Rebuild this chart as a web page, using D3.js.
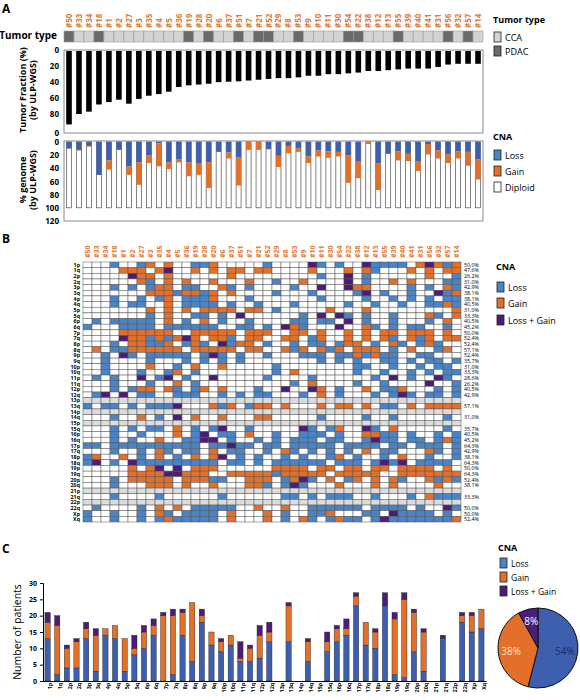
<!DOCTYPE html>
<html><head><meta charset="utf-8">
<script src="https://cdn.jsdelivr.net/npm/d3@7"></script>
<style>
body{margin:0;background:#fff}
text{font-family:"Open Sans",Arial,sans-serif}
</style></head>
<body>
<script>
const width = 580, height = 700;

const samples = ["#50","#33","#34","#18","#1","#2","#27","#3","#35","#4","#5","#36","#19","#28","#20","#6","#37","#51","#7","#21","#52","#29","#8","#53","#9","#10","#11","#30","#54","#22","#38","#12","#13","#55","#39","#40","#41","#31","#56","#32","#57","#14"];
const tumorType = ["P","C","C","P","C","C","C","C","C","C","C","C","P","C","P","C","C","P","C","P","P","C","C","P","C","C","C","C","P","P","C","C","C","P","C","C","C","C","P","C","P","C"];
const tumorFraction = [92,79,76,67,64,61,66,60,56,54,51,45,43,42,41,39,38.5,38,37,36,35,34,34,33,31,31,29,29,28,27,25,25,24,23,22,22,22,20,17,16,16,16];
const genomeLoss = [10,12,6,50,28,12,37,31,20,2,31,26,31,32,31,15,16,23,0,0,11,21,6,10,22,13,14,15,20,30,0,32,18,14,18,30,3,13,19,14,15,26];
const genomeGain = [0,1,1,0,14,0,13,34,12,35,10,5,21,18,39,0,9,43,12,12,0,17,11,5,10,9,10,7,42,25,3,41,0,14,11,14,16,12,13,11,21,31];

const arms = ["1p","1q","2p","2q","3p","3q","4p","4q","5p","5q","6p","6q","7p","7q","8p","8q","9p","9q","10p","10q","11p","11q","12p","12q","13p","13q","14p","14q","15p","15q","16p","16q","17p","17q","18p","18q","19p","19q","20p","20q","21p","21q","22p","22q","Xp","Xq"];
// heatmap rows: . none, L loss, G gain, B loss+gain, - not assessed
const heatRows = [
"...L..|LG.G..|LLG...|..L...|.BL.L.|.BLLLL|.GBGLG",
"....GG|G.GB..|G.G.GG|.GG...|.G...G|.GL...|G.G.GG",
".....B|GG.G..|....G.|......|..L..B|.L....|..G..L",
"......|GL.G.G|..G...|G..L..|G....B|.L..G.|G...LL",
"...L.L|.LGG.L|L..GL.|L....L|..B..B|GG....|L.L.GL",
"......|.GGGLG|GLG.G.|...L..|.L....|LB.L..|L..BLG",
"...L..|L.LG.L|LLG...|L.....|..L...|.L..L.|L.L.LL",
"...L.L|L..G.L|LLL.L.|.L...L|.....L|..L..L|..LLGL",
"......|.G.G.G|.GGGG.|GG.L..|...G..|.G....|.....G",
"......|.L.G..|LL.L.B|......|L.B.BL|.L..L.|..GL.G",
".L.LLL|LL.G.L|.G.L..|L....L|L.LL.B|.L..L.|..L.G.",
"L...LL|LL.LLL|LLL..L|L.L.BG|L...B.|.GL.L.|LL..L.",
"....GG|GGGG..|GGGGG.|GGG..G|G.G..G|.G.GG.|GGG.G.",
"....BG|GLGLGB|G.GGL.|GG..GG|.LG..G|.G.GL.|GLG.GG",
"...L.G|GLLG.L|GL.BLG|G.L..L|.LL.LG|G.L.GL|.LGL..",
".G.LLG|GGGGG.|GGGGG.|GG..GL|G.GLG.|GGG.L.|G..LG.",
"..L.BL|.LLLLL|.LBL.L|..L...|LLL.LL|GLGLL.|.LL...",
"..L...|.L...L|.L.L.L|......|..L.L.|L..LL.|L.LL.L",
"..L...|.G..L.|G..G..|...L..|......|LL..L.|.L.LL.",
"..L...|L..LG.|L.....|...L.G|......|L..L..|L.L.LL",
".L.L..|B.LB.L|..B...|..L...|.L....|..L.B.|L..BL.",
"...L..|.L..G.|L.....|.....L|.G....|L..L..|..B..L",
"...L.L|GG.GL.|LG.G..|.L..B.|.BG.L.|.G.LLG|...L.L",
".LB.B.|LL..LL|L..L.L|.LL...|L.G.L.|..L.LB|L.LL.L",
"------|------|------|------|------|------|------",
"L.LL.L|.LLLB.|..GLG.|LGG.G.|..G.GG|.G.LL.|G.GGGG",
"------|------|------|------|------|------|------",
"...L..|G.L.B.|G..G..|.GG...|..L...|.L..L.|....L.",
"------|------|------|------|------|------|------",
"...L.L|.LL.G.|L.LB..|L.....|BL.LG.|.BL.G.|....L.",
"...L..|L...G.|LB.LL.|G..L..|LLL.L.|.GGLL.|L..L.L",
"...L.L|..G..L|LBB.L.|.L.L.L|LL.LL.|.LBLL.|LL.LGL",
"LL.LLL|LLLLLL|L.LLBL|L.LL.L|LLLL.L|LLL.LL|.LLL.L",
"...L..|L.GL.L|L.G.LL|..L.GL|.L.L.L|.G.LL.|..GL.L",
"LG..G.|L.G.L.|G.GB.L|.L..L.|L..LG.|L..L.G|..L..L",
"LB.L.B|LLLLLL|LLL.LL|.L.LLL|LLL.LL|L.LBLB|.LLLL.",
".....G|.GB.B.|GGG...|...GGG|G.GG.G|G.GG.G|GGG.G.",
".....G|GGGBBG|GG..GG|GGGLGG|GGG.GG|GGG..G|GGGGGG",
"...L.G|GGGG.G|GGLL..|GGG.LG|BL.G.L|G.G.GL|..GLGL",
"...L..|.GGG.G|..G...|GGL.LB|L...G.|..G.G.|...G..",
"------|------|------|------|------|------|------",
"...L..|..L...|...L..|....LL|.L.LLL|..L...|L.GLLL",
"------|------|------|------|------|------|------",
".L....|L.G.G.|LLLLL.|.G..G.|.LLLLL|L.LLLL|.L..BL",
"L..L..|L.GL.L|LLL.G.|..G.L.|.LLG..|.LL.BL|LLL.L.",
"L..L..|L.LGLL|LLL.G.|..G.L.|GL.LGL|L.LBLL|LLLLLG"
];
const armPercent = ["50,0%","47,6%","26,2%","31,0%","42,9%","38,1%","38,1%","40,5%","31,0%","33,3%","40,5%","45,2%","50,0%","52,4%","52,4%","57,1%","52,4%","35,7%","31,0%","33,3%","28,6%","26,2%","40,5%","42,9%","","57,1%","","31,0%","","35,7%","40,5%","45,2%","64,3%","42,9%","38,1%","64,3%","50,0%","64,3%","52,4%","38,1%","","33,3%","","50,0%","50,0%","52,4%"];

const patLoss = [13,2,4,4,13,3,14,13,3,8,10,14,0,2,14,6,18,11,9,11,6,6,7,12,0,12,0,6,0,9,12,14,23,11,10,23,2,1,9,3,0,13,0,18,15,16];
const patGain = [5,15,6,8,3,11,2,4,10,2,5,3,20,18,7,18,2,4,3,3,1,4,7,3,0,11,0,6,0,3,4,2,3,7,5,0,17,24,12,12,0,0,0,2,5,6];
const patBoth = [3,3,1,1,2,2,0,0,0,4,2,2,1,2,1,0,2,0,1,0,5,1,3,3,0,1,0,1,0,3,1,3,1,0,1,4,2,2,1,1,0,1,0,1,1,0];
const pieValues = [54,38,8];
const tfTicks = [0,20,40,60,80,104];
const tfTickLabels = ["0","20","40","60","80","0"];
const genomeTicks = [0,20,40,60,80,100,120];
const patientTicks = [0,5,10,15,20,25,30];

const cLossA = "#3d5fae", cLossB = "#4a84c6", cGain = "#e2702b", cBoth = "#4b1d78";
const cCCA = "#d3d3d3", cPDAC = "#6a6a6a", cOrangeText = "#e07a34";

const svg = d3.select("body").append("svg").attr("width", width).attr("height", height);

function panelLetter(t, y) {
  svg.append("text").attr("x", 2).attr("y", y).text(t)
    .style("font-size", "12px").style("font-weight", "bold");
}
function legendBox(x, y, color, label, size) {
  svg.append("rect").attr("x", x).attr("y", y - 8).attr("width", 7).attr("height", 10)
    .attr("fill", color).attr("stroke", "#222").attr("stroke-width", 0.8);
  svg.append("text").attr("x", x + 11).attr("y", y + 1).text(label).style("font-size", size + "px");
}
function boldText(x, y, t, size, anchor) {
  svg.append("text").attr("x", x).attr("y", y).text(t)
    .style("font-size", size + "px").style("font-weight", "bold").attr("text-anchor", anchor || "start");
}

// ---------- Panel A ----------
panelLetter("A", 13);
const xA = d3.scaleBand().domain(samples).range([64, 483]).paddingInner(0);

svg.append("g").selectAll("text").data(samples).enter().append("text")
  .attr("transform", d => `translate(${xA(d) + xA.bandwidth() / 2 + 3},28)rotate(-90)`)
  .text(d => d).attr("fill", cOrangeText).style("font-size", "8px").style("font-weight", "bold");

boldText(57, 39, "Tumor type", 10, "end");
svg.append("g").selectAll("rect").data(samples).enter().append("rect")
  .attr("x", d => xA(d)).attr("y", 31).attr("width", xA.bandwidth()).attr("height", 11)
  .attr("fill", (d, i) => tumorType[i] === "P" ? cPDAC : cCCA)
  .attr("stroke", "#999").attr("stroke-width", 0.6);

const yTF = d3.scaleLinear().domain([0, 104]).range([50, 133]);
svg.append("rect").attr("x", 64).attr("y", 50).attr("width", 419).attr("height", 83)
  .attr("fill", "none").attr("stroke", "#888");
svg.append("g").selectAll("rect").data(tumorFraction).enter().append("rect")
  .attr("x", (d, i) => xA(samples[i]) + 2.2).attr("y", yTF(0) + 1)
  .attr("width", 5.6).attr("height", d => yTF(d) - yTF(0)).attr("fill", "#000");
svg.append("g").attr("transform", "translate(64,0)")
  .call(d3.axisLeft(yTF).tickValues(tfTicks).tickFormat((d, i) => tfTickLabels[i]).tickSize(0).tickPadding(5))
  .call(g => g.select(".domain").remove())
  .selectAll("text").style("font-size", "8px").style("font-weight", "bold");

const yG = d3.scaleLinear().domain([0, 120]).range([142, 221]);
svg.append("rect").attr("x", 64).attr("y", 141).attr("width", 419).attr("height", 80)
  .attr("fill", "none").attr("stroke", "#888");
const gBars = svg.append("g").selectAll("g").data(samples).enter().append("g");
gBars.append("rect").attr("x", d => xA(d) + 2.5).attr("y", yG(0))
  .attr("width", 5).attr("height", yG(100) - yG(0))
  .attr("fill", "#fff").attr("stroke", "#333").attr("stroke-width", 0.6);
gBars.append("rect").attr("x", d => xA(d) + 2.5).attr("y", yG(0))
  .attr("width", 5).attr("height", (d, i) => yG(genomeLoss[i]) - yG(0)).attr("fill", cLossA);
gBars.append("rect").attr("x", d => xA(d) + 2.5).attr("y", (d, i) => yG(genomeLoss[i]))
  .attr("width", 5).attr("height", (d, i) => yG(genomeGain[i]) - yG(0)).attr("fill", cGain);
svg.append("g").attr("transform", "translate(64,0)")
  .call(d3.axisLeft(yG).tickValues(genomeTicks).tickSize(0).tickPadding(5))
  .call(g => g.select(".domain").remove())
  .selectAll("text").style("font-size", "8px").style("font-weight", "bold");

function yTitle(lines, x, y, size) {
  const t = svg.append("text").attr("transform", `translate(${x},${y})rotate(-90)`)
    .attr("text-anchor", "middle").style("font-size", size + "px").style("font-weight", "bold");
  lines.forEach((l, i) => t.append("tspan").attr("x", 0).attr("dy", i === 0 ? 0 : size * 1.15).text(l));
}
yTitle(["Tumor Fraction  (%)", "(by ULP-WGS)"], 26, 90, 9);
yTitle(["% genome", "(by ULP-WGS)"], 26, 180, 9);

boldText(493, 23, "Tumor type", 9);
legendBox(494, 40, cCCA, "CCA", 9);
legendBox(494, 54, cPDAC, "PDAC", 9);
boldText(493, 140, "CNA", 9);
legendBox(494, 158, cLossB, "Loss", 9);
legendBox(494, 174, cGain, "Gain", 9);
legendBox(494, 190, "#fff", "Diploid", 9);

// ---------- Panel B ----------
panelLetter("B", 243);
const xB = d3.scaleBand().domain(samples).range([83, 461]);
const yB = d3.scaleBand().domain(arms).range([262, 522]);
svg.append("g").selectAll("text").data(samples).enter().append("text")
  .attr("transform", d => `translate(${xB(d) + xB.bandwidth() / 2 + 2.5},258)rotate(-90)`)
  .text(d => d).attr("fill", cOrangeText).style("font-size", "7px").style("font-weight", "bold");
const cellColor = { ".": "#fff", "L": cLossB, "G": cGain, "B": cBoth, "-": "#dcdcdc" };
const heat = svg.append("g");
heatRows.forEach((row, r) => {
  const s = row.replace(/\|/g, "").padEnd(samples.length, ".").slice(0, samples.length).split("");
  heat.selectAll(null).data(s).enter().append("rect")
    .attr("x", (d, i) => xB(samples[i])).attr("y", yB(arms[r]))
    .attr("width", xB.bandwidth()).attr("height", yB.bandwidth())
    .attr("fill", d => cellColor[d]).attr("stroke", "#555").attr("stroke-width", 0.5);
});
svg.append("g").selectAll("text").data(arms).enter().append("text")
  .attr("x", 80).attr("y", d => yB(d) + yB.bandwidth() / 2 + 2).attr("text-anchor", "end")
  .text(d => d).style("font-size", "5.3px").style("font-weight", "bold");
svg.append("g").selectAll("text").data(armPercent).enter().append("text")
  .attr("x", 464).attr("y", (d, i) => yB(arms[i]) + yB.bandwidth() / 2 + 2)
  .text(d => d).style("font-size", "5.3px");
boldText(496, 270, "CNA", 9);
legendBox(497, 290, cLossB, "Loss", 9);
legendBox(497, 306, cGain, "Gain", 9);
legendBox(497, 323, cBoth, "Loss + Gain", 9);

// ---------- Panel C ----------
panelLetter("C", 553);
const xC = d3.scaleBand().domain(arms).range([43, 486]).paddingInner(0.45).paddingOuter(0.2);
const yC = d3.scaleLinear().domain([0, 30]).range([681, 583]);
const stacks = arms.map((a, i) => ({ a, l: patLoss[i], g: patGain[i], b: patBoth[i] }));
const cb = svg.append("g").selectAll("g").data(stacks).enter().append("g")
  .attr("stroke", "#222").attr("stroke-width", 0.4);
cb.append("rect").attr("x", d => xC(d.a)).attr("width", xC.bandwidth())
  .attr("y", d => yC(d.l)).attr("height", d => yC(0) - yC(d.l)).attr("fill", cLossA);
cb.append("rect").attr("x", d => xC(d.a)).attr("width", xC.bandwidth())
  .attr("y", d => yC(d.l + d.g)).attr("height", d => yC(0) - yC(d.g)).attr("fill", cGain);
cb.append("rect").attr("x", d => xC(d.a)).attr("width", xC.bandwidth())
  .attr("y", d => yC(d.l + d.g + d.b)).attr("height", d => yC(0) - yC(d.b)).attr("fill", cBoth);
svg.append("g").attr("transform", "translate(43,0)")
  .call(d3.axisLeft(yC).tickValues(patientTicks).tickSize(3).tickPadding(3))
  .selectAll("text").style("font-size", "7px").style("font-weight", "bold");
svg.append("g").attr("transform", "translate(0,681)")
  .call(d3.axisBottom(xC).tickSize(0).tickPadding(3))
  .selectAll("text").attr("transform", "rotate(-90)").attr("text-anchor", "end")
  .attr("dx", "-0.3em").attr("dy", "0.3em").style("font-size", "5.5px").style("font-weight", "bold");
svg.append("text").attr("transform", "translate(21,632)rotate(-90)").attr("text-anchor", "middle")
  .text("Number of patients").style("font-size", "10.5px");

boldText(498, 551, "CNA", 9);
legendBox(500, 566, cLossB, "Loss", 8.5);
legendBox(500, 580, cGain, "Gain", 8.5);
legendBox(500, 594, cBoth, "Loss + Gain", 8.5);

const pieColors = [cLossA, cGain, cBoth];
const pie = d3.pie().sort(null).value(d => d)(pieValues);
const arc = d3.arc().innerRadius(0).outerRadius(40);
const pg = svg.append("g").attr("transform", "translate(538,648)");
pg.selectAll("path").data(pie).enter().append("path")
  .attr("d", arc).attr("fill", (d, i) => pieColors[i]).attr("stroke", "#111").attr("stroke-width", 1);
const labArc = d3.arc().innerRadius(20).outerRadius(34);
pg.selectAll("text").data(pie).enter().append("text")
  .attr("transform", d => `translate(${labArc.centroid(d)})`)
  .attr("text-anchor", "middle").attr("dy", "0.35em")
  .attr("fill", (d, i) => i === 0 ? "#1a2a6a" : (i === 1 ? "#fbe0c8" : "#fff"))
  .style("font-size", "10px").text((d, i) => pieValues[i] + "%");
</script>
</body></html>
